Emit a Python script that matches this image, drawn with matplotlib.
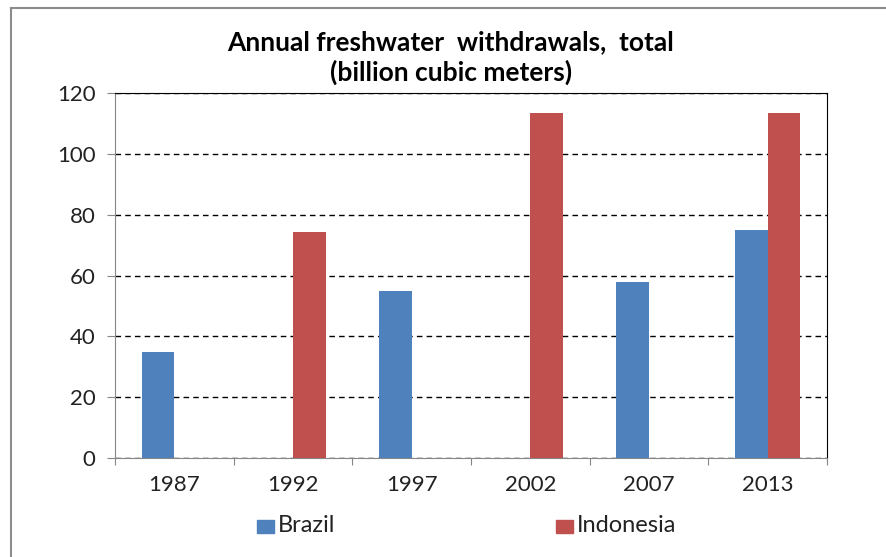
import numpy as np
import matplotlib.pyplot as plt
from matplotlib.lines import Line2D

years = ["1987", "1992", "1997", "2002", "2007", "2013"]
brazil = [35.0, 0, 55.0, 0, 58.0, 74.8]
indonesia = [0, 74.2, 0, 113.3, 0, 113.3]

blue = "#4F81BD"
red = "#C0504D"

plt.rcParams['font.family'] = ['Lato', 'DejaVu Sans']

fig = plt.figure(figsize=(8.86, 5.57), dpi=100)
ax = fig.add_axes([115 / 886, 1 - 458 / 557, 712 / 886, 365 / 557])

x = np.arange(len(years))
w = 0.275
ax.bar(x - w / 2, brazil, w, color=blue, label="Brazil", zorder=3)
ax.bar(x + w / 2, indonesia, w, color=red, label="Indonesia", zorder=3)

ax.set_xlim(-0.5, len(years) - 0.5)
ax.set_ylim(0, 120)
ax.set_yticks(range(0, 121, 20))
ax.yaxis.grid(True, linestyle=(0, (4, 3)), color="black", linewidth=1)
ax.set_axisbelow(True)

# category labels between boundary ticks
ax.set_xticks(np.arange(-0.5, len(years), 1))
ax.set_xticklabels([])
ax.set_xticks(x, minor=True)
ax.set_xticklabels(years, minor=True, fontsize=16, color="#222222")
ax.tick_params(axis="x", which="major", length=5, color="#868686")
ax.tick_params(axis="x", which="minor", length=0, pad=12)
ax.tick_params(axis="y", length=6, color="#868686", labelsize=16, labelcolor="#222222", pad=8)

for s in ["left", "bottom"]:
    ax.spines[s].set_color("#868686")
for s in ["top", "right"]:
    ax.spines[s].set_color("black")

fig.text(451 / 886, 1 - 42 / 557, "Annual freshwater  withdrawals,  total",
         ha="center", va="center", fontsize=19, fontweight="bold")
fig.text(451 / 886, 1 - 72 / 557, "(billion cubic meters)",
         ha="center", va="center", fontsize=19, fontweight="bold")

# legend entries
for xp, name, c in [(257, "Brazil", blue), (556, "Indonesia", red)]:
    fig.patches.append(plt.Rectangle((xp / 886, 1 - 533 / 557), 17 / 886, 13 / 557,
                                     transform=fig.transFigure, color=c))
    fig.text((xp + 21) / 886, 1 - 526 / 557, name, ha="left", va="center",
             fontsize=17, color="#222222")

# outer frame lines
fig.add_artist(Line2D([11 / 886, 11 / 886], [0, 1 - 8 / 557], color="#8c8c8c", lw=1.5,
                      transform=fig.transFigure))
fig.add_artist(Line2D([11 / 886, 1], [1 - 8 / 557, 1 - 8 / 557], color="#8c8c8c", lw=1.5,
                      transform=fig.transFigure))

fig.savefig("out.png", dpi=100)
